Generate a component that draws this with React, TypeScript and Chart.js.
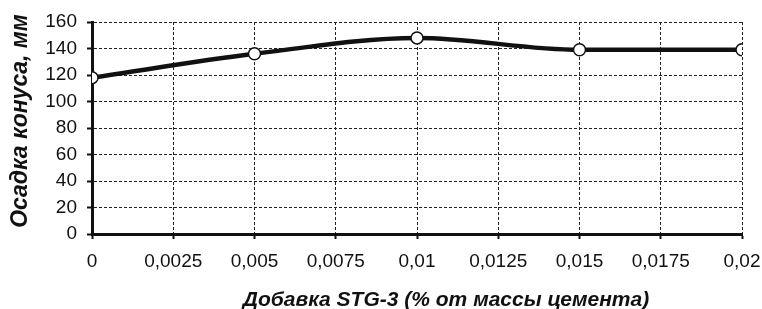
import React, { useEffect, useRef } from "react";
import { Chart, registerables } from "chart.js";

Chart.register(...registerables);

const xValues = [0, 0.005, 0.01, 0.015, 0.02];
const slumpValues = [118, 136, 148, 139, 139];
const xTickValues = [0, 0.0025, 0.005, 0.0075, 0.01, 0.0125, 0.015, 0.0175, 0.02];
const xTickLabels = ["0", "0,0025", "0,005", "0,0075", "0,01", "0,0125", "0,015", "0,0175", "0,02"];
const yTickValues = [0, 20, 40, 60, 80, 100, 120, 140, 160];
const xTitle = "Добавка STG-3 (% от массы цемента)";
const yTitle = "Осадка конуса, мм";

const titlesPlugin = {
  id: "axisTitles",
  afterDraw(chart: any) {
    const { ctx, chartArea } = chart;
    ctx.save();
    ctx.fillStyle = "#111";
    ctx.textAlign = "center";
    ctx.textBaseline = "middle";
    ctx.font = "italic bold 21px 'Liberation Sans'";
    ctx.fillText(xTitle, (chartArea.left + chartArea.right) / 2 + 29, chart.height - 9);
    ctx.translate(21, (chartArea.top + chartArea.bottom) / 2 - 7);
    ctx.rotate(-Math.PI / 2);
    ctx.font = "italic bold 23px 'Liberation Sans'";
    ctx.fillText(yTitle, 0, 0);
    ctx.restore();
  },
};

export default function App() {
  const ref = useRef<HTMLCanvasElement | null>(null);
  useEffect(() => {
    if (!ref.current) return;
    const gridOpts = {
      color: "#222",
      lineWidth: 1,
      tickLength: 5,
      tickBorderDash: [],
      tickColor: "#111",
      tickWidth: 2,
    };
    const chart = new Chart(ref.current, {
      type: "line",
      data: {
        datasets: [
          {
            data: xValues.map((x, i) => ({ x, y: slumpValues[i] })),
            borderColor: "#111",
            borderWidth: 4.5,
            cubicInterpolationMode: "monotone",
            pointRadius: 6,
            pointBorderWidth: 1.5,
            pointBackgroundColor: "#fff",
            pointBorderColor: "#111",
          },
        ],
      },
      options: {
        animation: false,
        responsive: false,
        maintainAspectRatio: false,
        layout: { padding: { top: 22, right: 20, left: 0, bottom: 0 } },
        plugins: { legend: { display: false }, tooltip: { enabled: false } },
        scales: {
          x: {
            type: "linear",
            min: 0,
            max: 0.02,
            afterBuildTicks: (axis: any) => {
              axis.ticks = xTickValues.map((v) => ({ value: v }));
            },
            afterFit: (axis: any) => {
              axis.height = 75;
              axis.paddingRight = 0;
              axis.paddingLeft = 0;
            },
            ticks: {
              autoSkip: false,
              maxRotation: 0,
              padding: 11,
              color: "#111",
              font: { family: "Liberation Sans", size: 19 },
              callback: (_v: any, i: number) => xTickLabels[i],
            },
            grid: gridOpts,
            border: { display: true, color: "#111", width: 3, dash: [3, 2] },
            title: { display: false },
          },
          y: {
            min: 0,
            max: 160,
            afterBuildTicks: (axis: any) => {
              axis.ticks = yTickValues.map((v) => ({ value: v }));
            },
            afterFit: (axis: any) => {
              axis.width = 92;
              axis.paddingTop = 0;
              axis.paddingBottom = 0;
            },
            ticks: {
              padding: 10,
              color: "#111",
              font: { family: "Liberation Sans", size: 19 },
            },
            grid: gridOpts,
            border: { display: true, color: "#111", width: 3, dash: [3, 2] },
            title: { display: false },
          },
        },
      },
      plugins: [titlesPlugin],
    } as any);
    return () => chart.destroy();
  }, []);
  return (
    <div style={{ position: "fixed", left: 0, top: 0, width: 762, height: 309, background: "#fff" }}>
      <canvas ref={ref} width={762} height={309} style={{ width: 762, height: 309 }} />
    </div>
  );
}
